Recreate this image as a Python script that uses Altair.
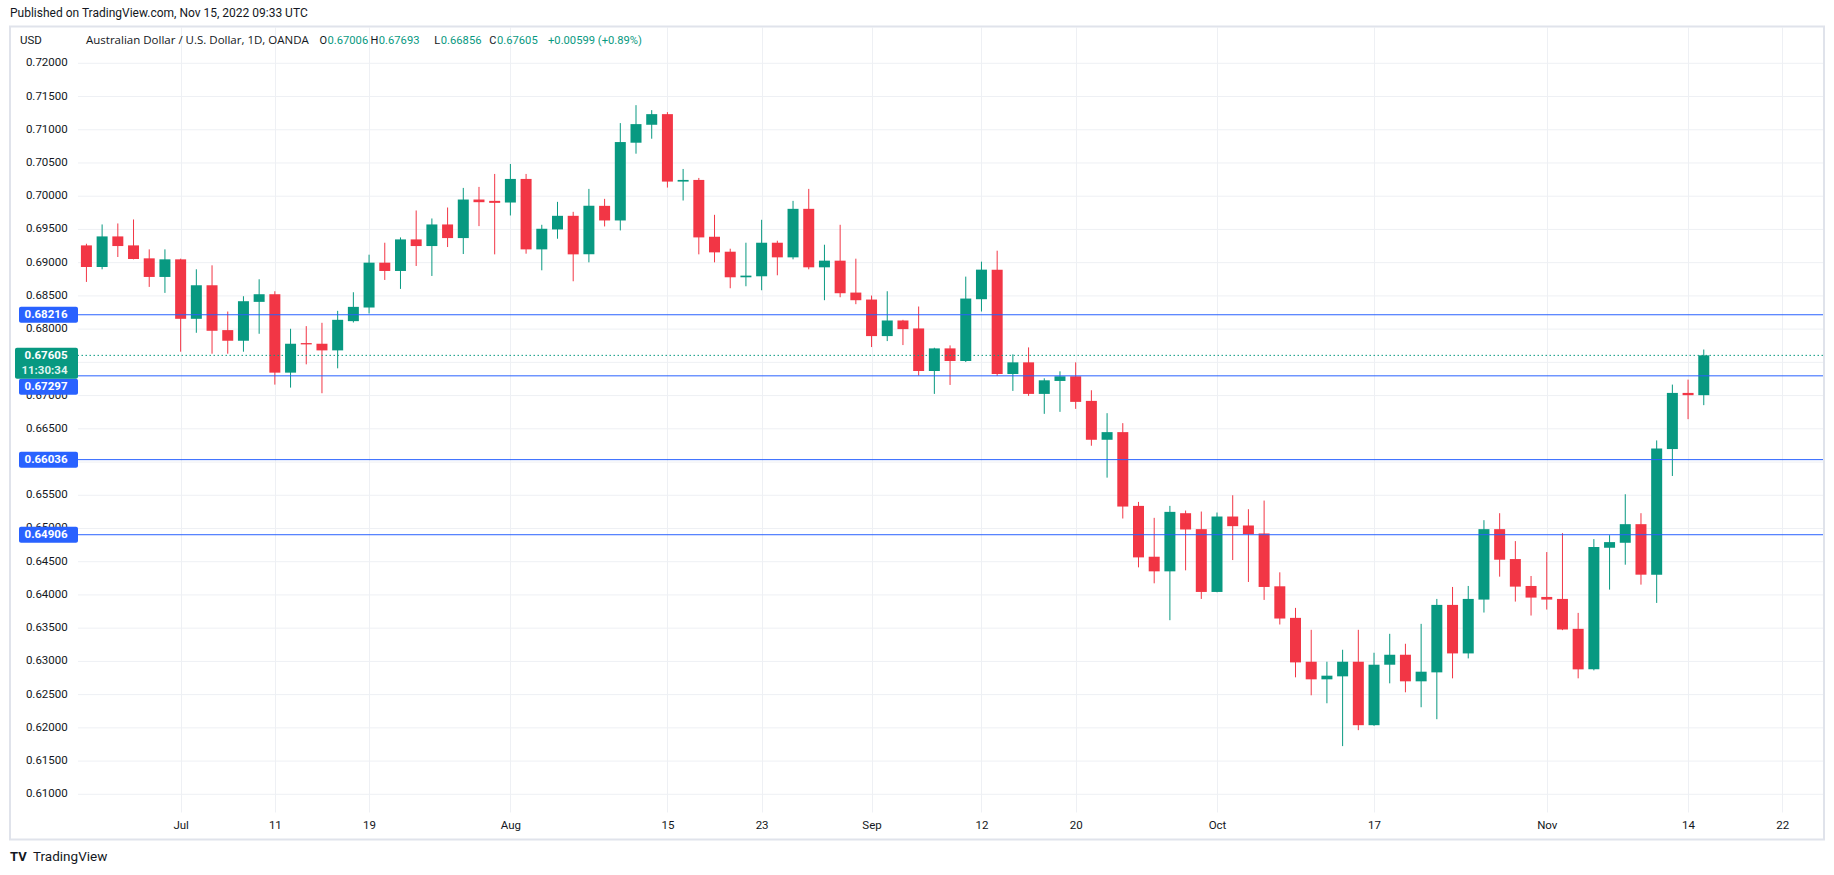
import altair as alt
import pandas as pd

# ---------------- data ----------------
dates = [
    "Jun 23", "Jun 24", "Jun 27", "Jun 28", "Jun 29", "Jun 30",
    "Jul 1", "Jul 4", "Jul 5", "Jul 6", "Jul 7", "Jul 8", "Jul 11", "Jul 12", "Jul 13", "Jul 14", "Jul 15",
    "Jul 18", "Jul 19", "Jul 20", "Jul 21", "Jul 22", "Jul 25", "Jul 26", "Jul 27", "Jul 28", "Jul 29",
    "Aug 1", "Aug 2", "Aug 3", "Aug 4", "Aug 5", "Aug 8", "Aug 9", "Aug 10", "Aug 11", "Aug 12",
    "Aug 15", "Aug 16", "Aug 17", "Aug 18", "Aug 19", "Aug 22", "Aug 23", "Aug 24", "Aug 25", "Aug 26",
    "Aug 29", "Aug 30", "Aug 31",
    "Sep 1", "Sep 2", "Sep 5", "Sep 6", "Sep 7", "Sep 8", "Sep 9", "Sep 12", "Sep 13", "Sep 14", "Sep 15",
    "Sep 16", "Sep 19", "Sep 20", "Sep 21", "Sep 22", "Sep 23", "Sep 26", "Sep 27", "Sep 28", "Sep 29", "Sep 30",
    "Oct 3", "Oct 4", "Oct 5", "Oct 6", "Oct 7", "Oct 10", "Oct 11", "Oct 12", "Oct 13", "Oct 14",
    "Oct 17", "Oct 18", "Oct 19", "Oct 20", "Oct 21", "Oct 24", "Oct 25", "Oct 26", "Oct 27", "Oct 28", "Oct 31",
    "Nov 1", "Nov 2", "Nov 3", "Nov 4", "Nov 7", "Nov 8", "Nov 9", "Nov 10", "Nov 11", "Nov 14", "Nov 15",
]
opens = [
    0.6926, 0.68935, 0.69395, 0.6926, 0.69065, 0.68785,
    0.6905, 0.68155, 0.6866, 0.67985, 0.67825, 0.6841, 0.68525, 0.67345, 0.6779, 0.6778, 0.6768,
    0.6812, 0.68325, 0.6900, 0.68875, 0.6935, 0.6925, 0.69575, 0.6937, 0.6995, 0.6993,
    0.69905, 0.7026, 0.6920, 0.6950, 0.69705, 0.69125, 0.69855, 0.69635, 0.70805, 0.71075,
    0.71235, 0.7022, 0.70245, 0.6939, 0.69165, 0.6878, 0.68795, 0.6930, 0.6908, 0.6981,
    0.6893, 0.6903, 0.6855,
    0.68445, 0.67895, 0.6813, 0.6801, 0.6737, 0.6771, 0.6752, 0.6845, 0.68895, 0.67325, 0.6750,
    0.67025, 0.6722, 0.6729, 0.6692, 0.66335, 0.6645, 0.6534, 0.64575, 0.64355, 0.6523, 0.6499,
    0.64045, 0.6518, 0.65045, 0.64925, 0.6413, 0.63655, 0.62995, 0.6273, 0.62775, 0.62995,
    0.6204, 0.6295, 0.6310, 0.6270, 0.62835, 0.6385, 0.6312, 0.6393, 0.6499, 0.6454, 0.64135,
    0.6397, 0.6394, 0.6349, 0.6288, 0.6471, 0.64785, 0.65065, 0.64305, 0.66195, 0.6704, 0.67006,
]
highs = [
    0.69285, 0.69575, 0.6959, 0.6965, 0.6920, 0.6920,
    0.6906, 0.6890, 0.6896, 0.68265, 0.68495, 0.6875, 0.6857, 0.68005, 0.68045, 0.68095, 0.68275,
    0.68555, 0.6912, 0.6930, 0.6938, 0.69785, 0.69665, 0.6983, 0.70125, 0.7014, 0.70335,
    0.70485, 0.70335, 0.6957, 0.69915, 0.69765, 0.7011, 0.6996, 0.7110, 0.7137, 0.71295,
    0.71265, 0.7041, 0.70275, 0.6972, 0.6921, 0.6930, 0.69645, 0.6933, 0.6993, 0.7011,
    0.6927, 0.6957, 0.6906,
    0.68505, 0.6857, 0.6814, 0.6834, 0.6772, 0.67755, 0.6879, 0.69015, 0.6918, 0.6762, 0.67725,
    0.6726, 0.67365, 0.6750, 0.6708, 0.66735, 0.66585, 0.6540, 0.6516, 0.6534, 0.6527, 0.65255,
    0.6524, 0.6550, 0.6529, 0.6542, 0.6434, 0.63805, 0.63475, 0.62995, 0.63175, 0.63475,
    0.6313, 0.63415, 0.63265, 0.63565, 0.6394, 0.6412, 0.64135, 0.65125, 0.6523, 0.6481, 0.64285,
    0.64645, 0.6493, 0.6373, 0.6484, 0.6490, 0.65515, 0.6523, 0.66325, 0.67165, 0.6724, 0.67693,
]
lows = [
    0.6871, 0.6890, 0.69085, 0.6905, 0.68635, 0.68545,
    0.6766, 0.67945, 0.6763, 0.6763, 0.6766, 0.6793, 0.67165, 0.6712, 0.6747, 0.67035, 0.6741,
    0.6810, 0.68235, 0.6874, 0.68605, 0.6895, 0.6880, 0.69235, 0.6913, 0.6955, 0.69125,
    0.6971, 0.69135, 0.68885, 0.6936, 0.6872, 0.69005, 0.69545, 0.69485, 0.7064, 0.70865,
    0.7013, 0.69935, 0.69125, 0.69005, 0.68615, 0.68645, 0.68585, 0.6881, 0.6905, 0.6890,
    0.68435, 0.6848, 0.68375,
    0.6773, 0.6782, 0.6776, 0.6730, 0.67025, 0.6716, 0.67505, 0.68265, 0.67295, 0.6707, 0.66995,
    0.66725, 0.66755, 0.6680, 0.66245, 0.65765, 0.6515, 0.64415, 0.64175, 0.6362, 0.6437, 0.6394,
    0.6404, 0.64525, 0.64195, 0.63925, 0.63555, 0.6276, 0.6249, 0.6237, 0.61725, 0.61965,
    0.6203, 0.6267, 0.62535, 0.6231, 0.6213, 0.62745, 0.63045, 0.63735, 0.64275, 0.6390, 0.6369,
    0.6378, 0.6347, 0.62745, 0.62865, 0.6408, 0.64455, 0.64155, 0.6388, 0.6579, 0.66645, 0.66856,
]
closes = [
    0.68935, 0.69395, 0.6925, 0.69055, 0.68785, 0.6905,
    0.68155, 0.6866, 0.67975, 0.67825, 0.6842, 0.68525, 0.67345, 0.6778, 0.6777, 0.6768, 0.6814,
    0.68335, 0.6900, 0.68875, 0.6935, 0.6925, 0.69575, 0.6937, 0.6995, 0.6991, 0.6990,
    0.7026, 0.6920, 0.6951, 0.69705, 0.69125, 0.69855, 0.69635, 0.70815, 0.71085, 0.71235,
    0.7022, 0.70245, 0.6938, 0.69155, 0.6878, 0.68805, 0.6930, 0.6908, 0.6981, 0.6893,
    0.6903, 0.6854, 0.68435,
    0.67895, 0.6813, 0.6800, 0.6737, 0.6771, 0.6752, 0.6846, 0.68895, 0.67325, 0.6750, 0.67025,
    0.6723, 0.6729, 0.66905, 0.66335, 0.6645, 0.6533, 0.64565, 0.64355, 0.6525, 0.64985, 0.64045,
    0.6518, 0.65035, 0.64915, 0.6412, 0.63645, 0.62985, 0.6273, 0.62785, 0.62995, 0.6204,
    0.6295, 0.6310, 0.6270, 0.62845, 0.6385, 0.6312, 0.6394, 0.6499, 0.6453, 0.64125, 0.6396,
    0.6393, 0.6348, 0.6288, 0.6472, 0.64795, 0.65065, 0.64305, 0.66205, 0.6704, 0.67006, 0.67605,
]

# time-axis labels (bar positions, Jun 23 = 0)
time_tick_pos = [6, 12, 18, 27, 37, 43, 50, 57, 63, 72, 82, 93, 102, 108]
time_tick_lab = ["Jul", "11", "19", "Aug", "15", "23", "Sep", "12", "20", "Oct", "17", "Nov", "14", "22"]

price_ticks = [0.610, 0.615, 0.620, 0.625, 0.630, 0.635, 0.640, 0.645, 0.650, 0.655, 0.660,
               0.665, 0.670, 0.675, 0.680, 0.685, 0.690, 0.695, 0.700, 0.705, 0.710, 0.715, 0.720]
# 0.67500 sits completely under the last-price badge in the reference, so it shows no label
price_label_ticks = [v for v in price_ticks if abs(v - 0.675) > 1e-9]
price_label_text = ["%.5f" % v for v in price_label_ticks]

level_prices = [0.68216, 0.67297, 0.66036, 0.64906]
level_texts = ["0.68216", "0.67297", "0.66036", "0.64906"]
level_label_shift_px = [0, 11, 0, 0]   # label pushed down to avoid the last-price badge

last_price = 0.67605
last_price_text = "0.67605"
countdown_text = "11:30:34"

header_text = "Published on TradingView.com, Nov 15, 2022 09:33 UTC"
currency_text = "USD"
symbol_text = "Australian Dollar / U.S. Dollar, 1D, OANDA"
ohlc_keys = ["O", "H", "L", "C"]
ohlc_vals = ["0.67006", "0.67693", "0.66856", "0.67605"]
change_text = "+0.00599 (+0.89%)"
footer_text = "TradingView"

# ---------------- geometry / styles ----------------
PL, PT = 78, 27           # plot area origin in the page
W, H = 1745, 785          # plot area size
PX_PER_PRICE = 731 / 0.11
PX_PER_BAR = 15.793
X_JUL1 = 176.2

y_top = 0.72 + (63.3 - PT) / PX_PER_PRICE
y_bot = 0.61 - (PT + H - 794.3) / PX_PER_PRICE
x_min = 6 - (X_JUL1 - PL) / PX_PER_BAR
x_max = x_min + W / PX_PER_BAR

GREEN = "#089981"
RED = "#f23645"
BLUE = "#2962ff"
TXT = "#131722"
GRID = "#eef0f4"
FONT = "Roboto"

xs = alt.Scale(domain=[x_min, x_max], nice=False, zero=False)
ys = alt.Scale(domain=[y_bot, y_top], nice=False, zero=False)

df = pd.DataFrame({"date": dates, "open": opens, "high": highs, "low": lows, "close": closes})
df["i"] = range(len(df))
df["dir"] = ["up" if c >= o else "down" for o, c in zip(df["open"], df["close"])]

lab_expr = "{}[indexof({}, datum.value)]".format(
    "[" + ",".join("'%s'" % s for s in time_tick_lab) + "]",
    "[" + ",".join(str(v) for v in time_tick_pos) + "]",
)

color = alt.Color("dir:N", scale=alt.Scale(domain=["up", "down"], range=[GREEN, RED]), legend=None)

x_axis = alt.Axis(
    values=time_tick_pos, labelExpr=lab_expr, title=None, ticks=False, domain=False,
    grid=True, gridColor=GRID, gridWidth=1, labelFont=FONT, labelFontSize=11.5,
    labelColor=TXT, labelPadding=7, labelFlush=False, labelOverlap=False)
y_axis = None   # price gridlines / labels are drawn as layers below

price_grid = alt.Chart(pd.DataFrame({"p": price_ticks})).mark_rule(color=GRID, strokeWidth=1).encode(
    y=alt.Y("p:Q", scale=ys, axis=y_axis))
price_labels = alt.Chart(pd.DataFrame({"p": price_label_ticks, "t": price_label_text})).mark_text(
    align="right", baseline="middle", font=FONT, fontSize=11.5, color=TXT).encode(
    y=alt.Y("p:Q", scale=ys, axis=y_axis), x=alt.value(67.7 - PL), text="t:N")

base = alt.Chart(df)
wicks = base.mark_rule(strokeWidth=1).encode(
    x=alt.X("i:Q", scale=xs, axis=x_axis), y=alt.Y("low:Q", scale=ys, axis=y_axis), y2="high:Q",
    color=color)
bodies = base.mark_bar(size=11).encode(
    x=alt.X("i:Q", scale=xs, axis=x_axis), y=alt.Y("open:Q", scale=ys, axis=y_axis), y2="close:Q",
    color=color)

lv = pd.DataFrame({"price": level_prices, "text": level_texts, "shift": level_label_shift_px})
lv["label_price"] = lv["price"] - lv["shift"] / PX_PER_PRICE
lv_chart = alt.Chart(lv)
level_lines = lv_chart.mark_rule(color=BLUE, strokeWidth=1).encode(
    y=alt.Y("price:Q", scale=ys, axis=y_axis))
level_boxes = lv_chart.mark_rect(color=BLUE, yOffset=-8, y2Offset=8, cornerRadius=2).encode(
    y=alt.Y("label_price:Q", scale=ys, axis=y_axis), y2="label_price:Q",
    x=alt.value(19 - PL), x2=alt.value(0))
level_labels = lv_chart.mark_text(align="right", baseline="middle", color="white", font=FONT,
                                  fontSize=11.5, fontWeight="bold", dy=0.5).encode(
    y=alt.Y("label_price:Q", scale=ys, axis=y_axis), x=alt.value(67.5 - PL), text="text:N")

lp = pd.DataFrame({"price": [last_price], "text": [last_price_text], "cd": [countdown_text]})
lp_chart = alt.Chart(lp)
last_line = lp_chart.mark_rule(color=GREEN, strokeWidth=1, strokeDash=[1.5, 2.5]).encode(
    y=alt.Y("price:Q", scale=ys, axis=y_axis))
last_box = lp_chart.mark_rect(color=GREEN, yOffset=-7.5, y2Offset=23.5, cornerRadius=2).encode(
    y=alt.Y("price:Q", scale=ys, axis=y_axis), y2="price:Q", x=alt.value(15 - PL), x2=alt.value(0))
last_label = lp_chart.mark_text(align="right", baseline="middle", color="white", font=FONT,
                                fontSize=11.5, fontWeight="bold", dy=1).encode(
    y=alt.Y("price:Q", scale=ys, axis=y_axis), x=alt.value(67.5 - PL), text="text:N")
last_cd = lp_chart.mark_text(align="right", baseline="middle", color="#dff3ee", font=FONT,
                             fontSize=11.5, fontWeight="bold", dy=15.5).encode(
    y=alt.Y("price:Q", scale=ys, axis=y_axis), x=alt.value(67.5 - PL), text="cd:N")


def txt(s, px, py, color=TXT, size=12, weight="normal", align="left", font=FONT):
    return alt.Chart(pd.DataFrame({"t": [s]})).mark_text(
        align=align, baseline="middle", font=font, fontSize=size, fontWeight=weight, color=color
    ).encode(x=alt.value(px - PL), y=alt.value(py - PT), text="t:N")


texts = [
    txt(header_text, 10, 13, size=12),
    txt(currency_text, 20, 41, size=11.5),
    txt(symbol_text, 86, 41, size=11.5, font="Open Sans"),
]
val_x = [327.5, 378.8, 440.8, 497.0]
for k, v, vx in zip(ohlc_keys, ohlc_vals, val_x):
    texts.append(txt(k, vx - 0.5, 41, size=11, align="right"))
    texts.append(txt(v, vx, 41, color=GREEN, size=11.2))
texts.append(txt(change_text, 548, 41, color=GREEN, size=11.2))
texts.append(txt(footer_text, 33, 857, size=13.5))
texts.append(txt("TV", 10, 857, size=13, weight="bold"))

frame = alt.Chart(pd.DataFrame({"a": [0]})).mark_rect(
    filled=False, stroke="#e0e3eb", strokeWidth=2).encode(
    x=alt.value(10 - PL), x2=alt.value(1824 - PL), y=alt.value(26.5 - PT), y2=alt.value(839.5 - PT))

chart = alt.layer(
    price_grid, wicks, bodies, level_lines, last_line, price_labels, level_boxes, level_labels,
    last_box, last_label, last_cd, frame, *texts
).properties(
    width=W, height=H,
    padding={"left": PL, "top": PT, "right": 1834 - PL - W, "bottom": 875 - PT - H},
    autosize=alt.AutoSizeParams(type="none"),
    background="white",
).configure_view(strokeWidth=0)

chart.save("out.html", embed_options={"renderer": "svg", "actions": False})
